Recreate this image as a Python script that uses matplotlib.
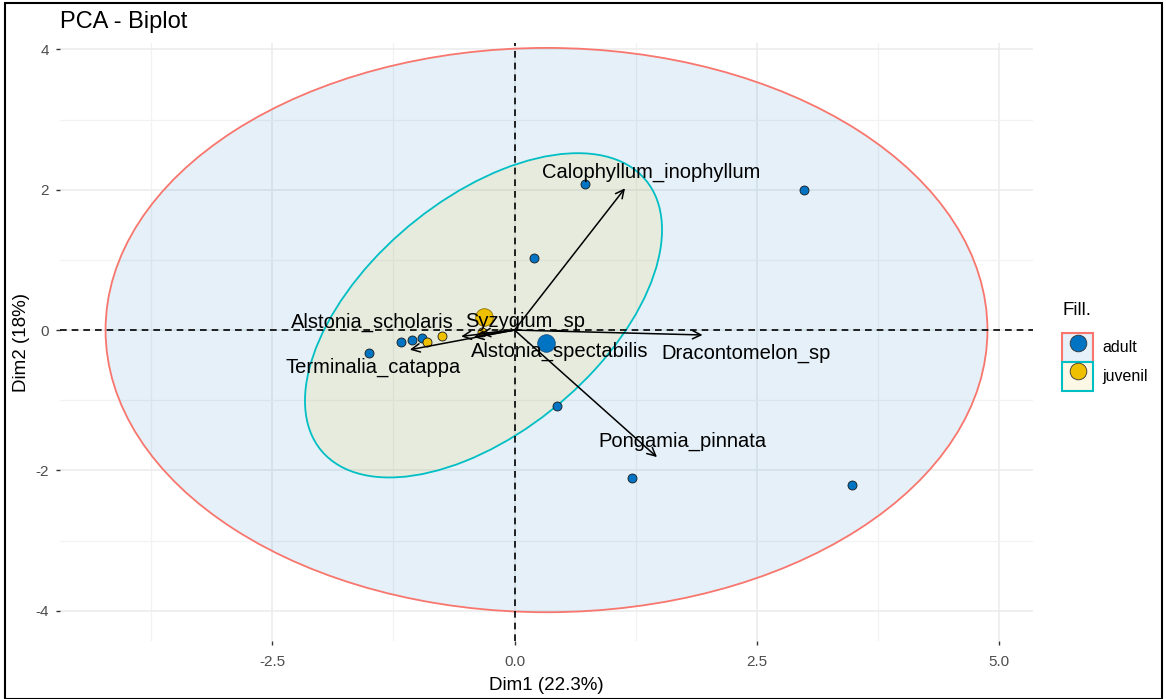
import matplotlib.pyplot as plt
from matplotlib.patches import Ellipse, Rectangle, Patch
from matplotlib.lines import Line2D
from matplotlib.legend_handler import HandlerTuple

plt.rcParams['font.family'] = ['Liberation Sans', 'DejaVu Sans']
plt.rcParams['axes.unicode_minus'] = False

# individuals (PCA scores)
adult_x = [0.73, 2.99, 0.20, 0.44, 1.21, 3.48, -1.50, -1.17, -1.06, -0.95]
adult_y = [2.08, 1.99, 1.02, -1.08, -2.11, -2.21, -0.33, -0.17, -0.14, -0.11]
juv_x = [-0.75, -0.90, -0.34]
juv_y = [-0.09, -0.17, -0.03]
mean_adult = (0.32, -0.19)
mean_juv = (-0.32, 0.19)

# concentration ellipses: center, width, height, angle
ell_adult = ((0.33, 0.0), 9.10, 8.04, 0.0)
ell_juv = ((-0.32, 0.21), 5.22, 2.77, 56.7)

# variables (arrows) and label positions
var_names = ["Calophyllum_inophyllum", "Dracontomelon_sp", "Pongamia_pinnata",
             "Terminalia_catappa", "Alstonia_scholaris", "Alstonia_spectabilis",
             "Syzygium_sp"]
var_x = [1.14, 1.94, 1.47, -1.08, -0.55, -0.42, -0.35]
var_y = [2.02, -0.07, -1.81, -0.28, -0.09, -0.10, -0.05]
lab_x = [1.41, 2.39, 1.73, -1.46, -1.47, 0.47, 0.11]
lab_y = [2.24, -0.33, -1.59, -0.53, 0.11, -0.31, 0.13]

blue = "#0073C2"
yellow = "#EFC000"
red_line = "#F8766D"
cyan_line = "#00BFC4"

fig = plt.figure(figsize=(11.66, 6.99), dpi=100)
ax = fig.add_axes([60 / 1166, 58 / 699, 973 / 1166, 598 / 699])
ax.set_xlim(-4.69, 5.35)
ax.set_ylim(-4.43, 4.09)

ax.set_xticks([-2.5, 0, 2.5, 5.0])
ax.set_xticklabels(["-2.5", "0.0", "2.5", "5.0"])
ax.set_yticks([-4, -2, 0, 2, 4])
ax.set_xticks([-3.75, -1.25, 1.25, 3.75], minor=True)
ax.set_yticks([-3, -1, 1, 3], minor=True)
ax.grid(which='major', color='#EBEBEB', lw=1.1, zorder=0)
ax.grid(which='minor', color='#F2F2F2', lw=0.9, zorder=0)
ax.set_axisbelow(True)
for s in ax.spines.values():
    s.set_visible(False)
ax.tick_params(which='major', length=3, width=1, color='#333333',
               labelsize=11, labelcolor='#4D4D4D', pad=5)
ax.tick_params(axis='x', pad=7)
ax.tick_params(which='minor', length=0)

# ellipses
for (c, w, h, a), col, ec in [(ell_adult, blue, red_line), (ell_juv, yellow, cyan_line)]:
    ax.add_patch(Ellipse(c, w, h, angle=a, facecolor=col, alpha=0.1,
                         edgecolor='none', zorder=1))
    ax.add_patch(Ellipse(c, w, h, angle=a, facecolor='none',
                         edgecolor=ec, lw=1.3, zorder=2))

ax.axhline(0, color='black', ls=(0, (4, 3)), lw=1.2, zorder=2)
ax.axvline(0, color='black', ls=(0, (4, 3)), lw=1.2, zorder=2)

ax.scatter(adult_x, adult_y, s=42, c=blue, edgecolors='#1a1a1a', lw=0.6, zorder=4)
ax.scatter(juv_x, juv_y, s=42, c=yellow, edgecolors='#1a1a1a', lw=0.6, zorder=4)
ax.scatter(*mean_adult, s=160, c=blue, edgecolors='#1a4f80', lw=0.6, zorder=4)
ax.scatter(*mean_juv, s=160, c=yellow, edgecolors='#8a7000', lw=0.6, zorder=4)

for name, vx, vy, lx, ly in zip(var_names, var_x, var_y, lab_x, lab_y):
    ax.annotate("", xy=(vx, vy), xytext=(0, 0),
                arrowprops=dict(arrowstyle='->', color='black', lw=1.1,
                                shrinkA=0, shrinkB=0, mutation_scale=15),
                zorder=5)
    ax.text(lx, ly, name, ha='center', va='center', fontsize=14.5,
            color='black', zorder=6)

ax.set_xlabel("Dim1 (22.3%)", fontsize=13.5, labelpad=6)
ax.set_ylabel("Dim2 (18%)", fontsize=13.5, labelpad=4)
fig.text(60 / 1166, 1 - 22 / 699, "PCA - Biplot", fontsize=17, va='center', ha='left')

# legend
h_adult = (Patch(facecolor='#E6F1F9', edgecolor=red_line, lw=1.5),
           Line2D([], [], marker='o', ls='none', markersize=12,
                  markerfacecolor=blue, markeredgecolor='#333333', markeredgewidth=0.6))
h_juv = (Patch(facecolor='#FDF8E5', edgecolor=cyan_line, lw=1.5),
         Line2D([], [], marker='o', ls='none', markersize=12,
                markerfacecolor=yellow, markeredgecolor='#333333', markeredgewidth=0.6))
leg = fig.legend([h_adult, h_juv], ["adult", "juvenil"], title="Fill.",
                 handler_map={tuple: HandlerTuple(ndivide=1, pad=0)},
                 loc='upper left', bbox_to_anchor=(1062 / 1166, 1 - 302 / 699),
                 frameon=False, fontsize=11.5, title_fontsize=13.5,
                 handlelength=1.95, handleheight=2.4, handletextpad=0.6,
                 labelspacing=0.0, borderaxespad=0, borderpad=0)
leg._legend_box.align = "left"
leg._legend_box.sep = 10

# screenshot frame
fig.add_artist(Rectangle((5 / 1166, 0), 1157 / 1166, 1 - 3 / 699, transform=fig.transFigure,
                         fill=False, edgecolor='black', lw=1.5))

fig.savefig("out.png", dpi=100)
